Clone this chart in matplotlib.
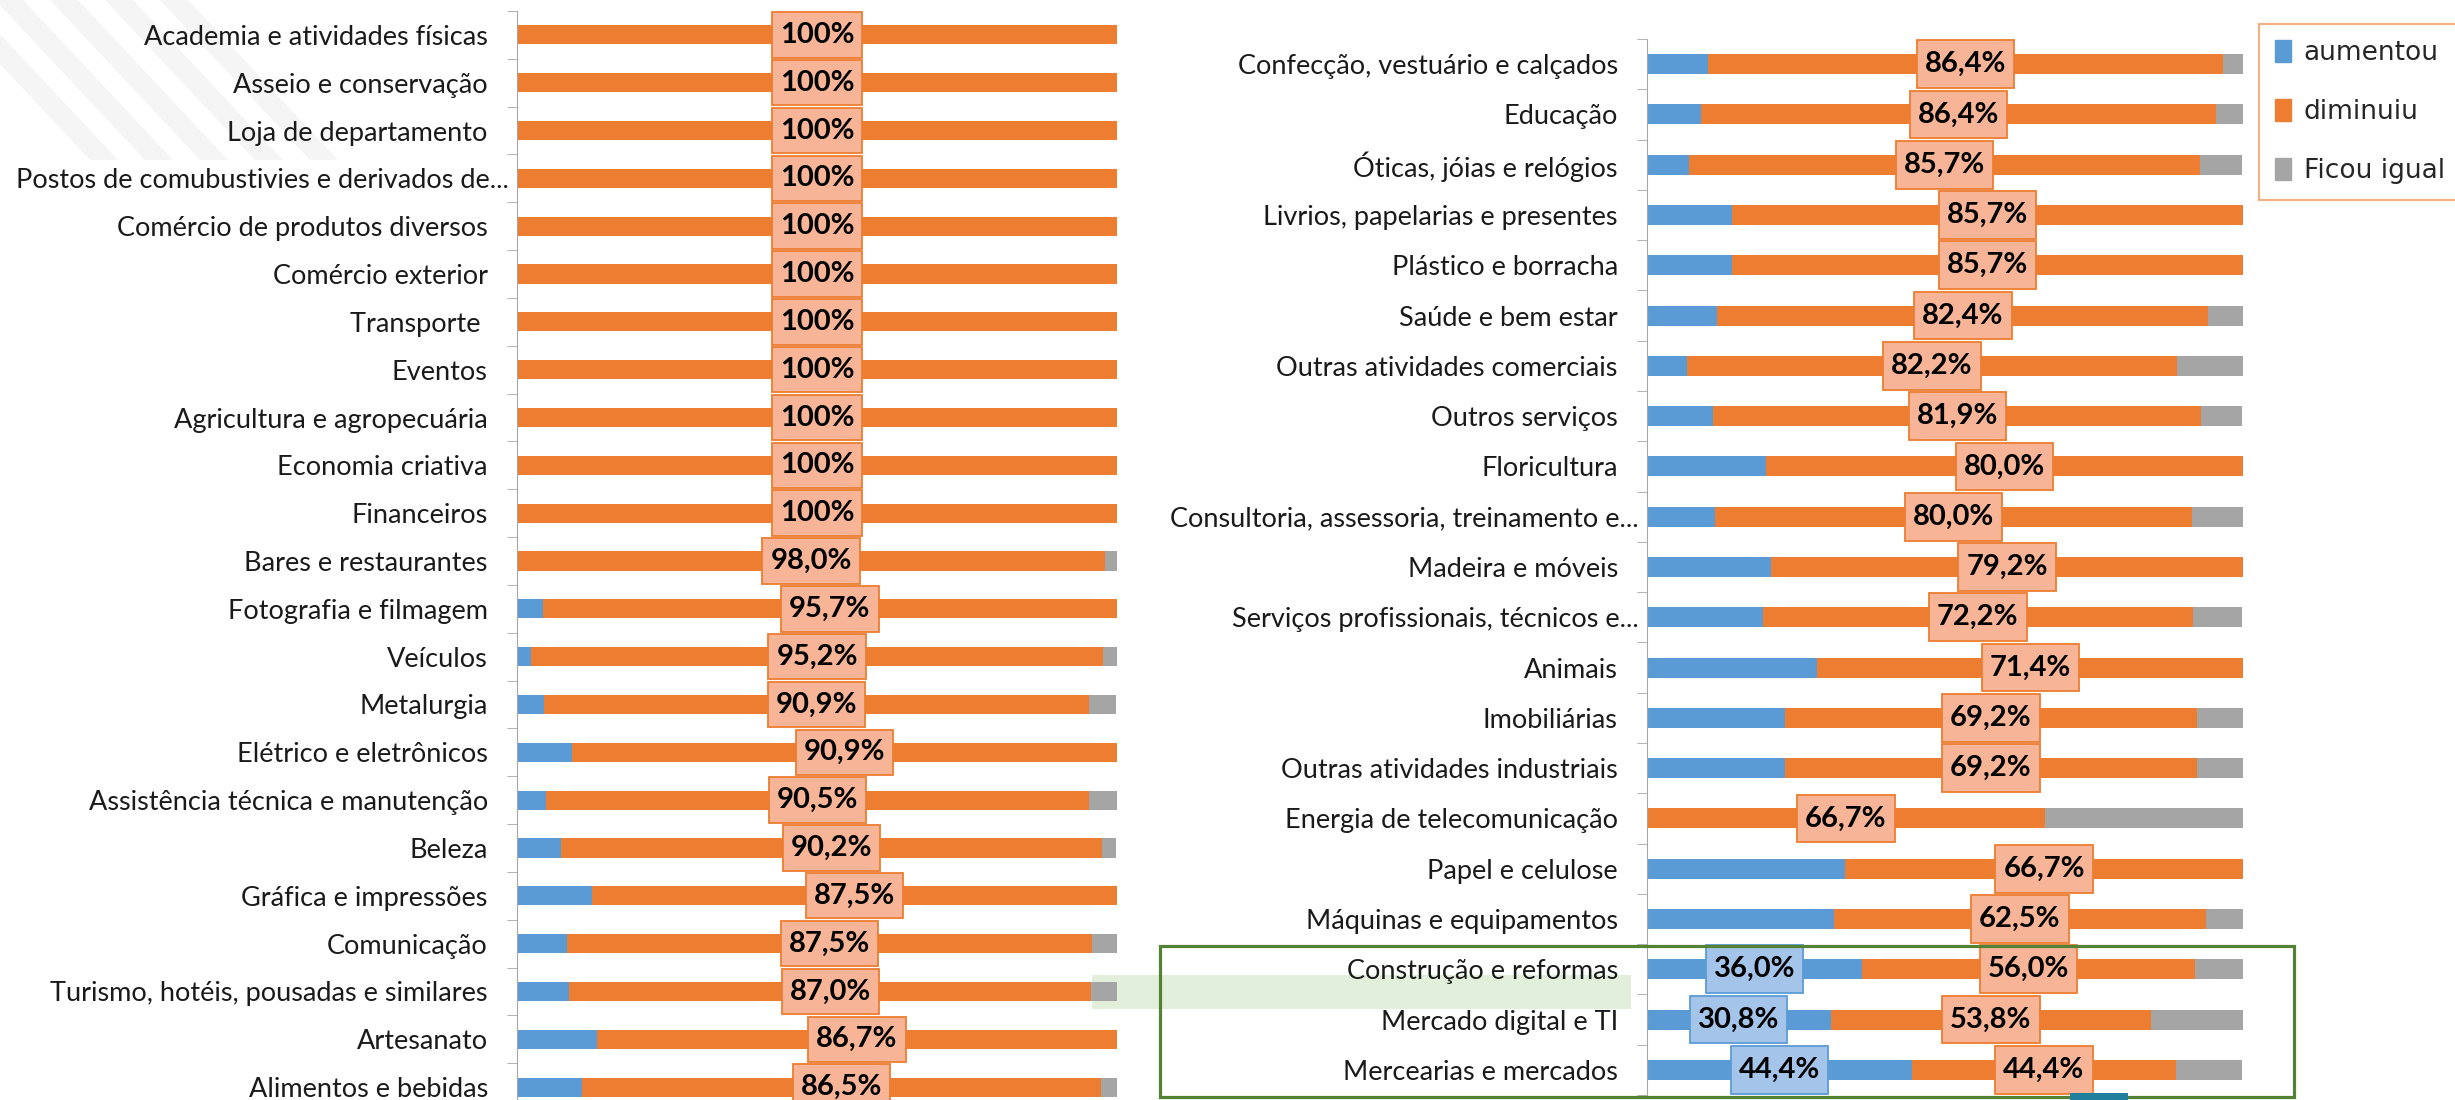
import numpy as np
import matplotlib
matplotlib.use('Agg')
import matplotlib.pyplot as plt
from matplotlib.patches import Rectangle, Patch

plt.rcParams['font.family'] = ['Lato', 'DejaVu Sans']

BLUE = '#5B9BD5'
ORANGE = '#ED7D31'
GRAY = '#A5A5A5'

left_cats = ['Academia e atividades físicas', 'Asseio e conservação', 'Loja de departamento',
             'Postos de comubustivies e derivados de...', 'Comércio de produtos diversos',
             'Comércio exterior', 'Transporte ', 'Eventos', 'Agricultura e agropecuária',
             'Economia criativa', 'Financeiros', 'Bares e restaurantes', 'Fotografia e filmagem',
             'Veículos', 'Metalurgia', 'Elétrico e eletrônicos', 'Assistência técnica e manutenção',
             'Beleza', 'Gráfica e impressões', 'Comunicação', 'Turismo, hotéis, pousadas e similares',
             'Artesanato', 'Alimentos e bebidas']
left_aum = [0, 0, 0, 0, 0, 0, 0, 0, 0, 0, 0, 0, 4.3, 2.4, 4.5, 9.1, 4.8, 7.3, 12.5, 8.3, 8.7, 13.3, 10.8]
left_dim = [100, 100, 100, 100, 100, 100, 100, 100, 100, 100, 100, 98.0, 95.7, 95.2, 90.9, 90.9,
            90.5, 90.2, 87.5, 87.5, 87.0, 86.7, 86.5]
left_igual = [0, 0, 0, 0, 0, 0, 0, 0, 0, 0, 0, 2.0, 0, 2.4, 4.5, 0, 4.8, 2.4, 0, 4.2, 4.3, 0, 2.7]

right_cats = ['Confecção, vestuário e calçados', 'Educação', 'Óticas, jóias e relógios',
              'Livrios, papelarias e presentes', 'Plástico e borracha', 'Saúde e bem estar',
              'Outras atividades comerciais', 'Outros serviços', 'Floricultura',
              'Consultoria, assessoria, treinamento e...', 'Madeira e móveis',
              'Serviços profissionais, técnicos e...', 'Animais', 'Imobiliárias',
              'Outras atividades industriais', 'Energia de telecomunicação', 'Papel e celulose',
              'Máquinas e equipamentos', 'Construção e reformas', 'Mercado digital e TI',
              'Mercearias e mercados']
right_aum = [10.2, 9.1, 7.1, 14.3, 14.3, 11.8, 6.7, 11.1, 20.0, 11.4, 20.8, 19.4, 28.6, 23.1, 23.1,
             0, 33.3, 31.3, 36.0, 30.8, 44.4]
right_dim = [86.4, 86.4, 85.7, 85.7, 85.7, 82.4, 82.2, 81.9, 80.0, 80.0, 79.2, 72.2, 71.4, 69.2, 69.2,
             66.7, 66.7, 62.5, 56.0, 53.8, 44.4]
right_igual = [3.4, 4.5, 7.1, 0, 0, 5.9, 11.1, 6.9, 0, 8.6, 0, 8.3, 0, 7.7, 7.7, 33.3, 0, 6.3,
               8.0, 15.4, 11.1]
# rows of the right chart that also show the "aumentou" value
right_blue_lab = ['Construção e reformas', 'Mercado digital e TI', 'Mercearias e mercados']

legend_labels = ['aumentou', 'diminuiu', 'Ficou igual']

value_boxes = []  # text objects that get a box drawn behind them later


def fmt(v):
    if v == 100:
        return '100%'
    return f'{v:.1f}%'.replace('.', ',')


def draw(ax, cats, aum, dim, igual, blue_lab, short_pad):
    aum = np.array(aum)
    dim = np.array(dim)
    igual = np.array(igual)
    y = np.arange(len(cats))
    ax.barh(y, aum, height=0.4, color=BLUE)
    ax.barh(y, dim, left=aum, height=0.4, color=ORANGE)
    ax.barh(y, igual, left=aum + dim, height=0.4, color=GRAY)
    ax.set_xlim(0, 100)
    ax.set_ylim(len(cats) - 0.5, -0.5)
    ax.set_facecolor('none')

    for s in ['top', 'right', 'bottom']:
        ax.spines[s].set_visible(False)
    ax.spines['left'].set_color('#A6A6A6')
    ax.set_xticks([])
    ax.set_yticks(y)
    ax.set_yticklabels(cats, fontsize=19.5, color='#1a1a1a')
    ax.set_yticks(np.arange(len(cats) + 1) - 0.5, minor=True)
    ax.tick_params(axis='y', which='major', length=0, pad=21)
    ax.tick_params(axis='y', which='minor', length=7, color='#A6A6A6')
    for i, t in enumerate(ax.yaxis.get_major_ticks()):
        if cats[i] in short_pad:
            t.set_pad(6)

    for i in range(len(cats)):
        xc = aum[i] + dim[i] / 2
        t = ax.text(xc, i, fmt(dim[i]), ha='center', va='center',
                    fontsize=21, fontweight='bold', color='black', zorder=4)
        value_boxes.append((ax, t, xc, i, '#F7B497', ORANGE))
        if cats[i] in blue_lab:
            xb = aum[i] / 2
            t = ax.text(xb, i, fmt(aum[i]), ha='center', va='center',
                        fontsize=21, fontweight='bold', color='black', zorder=4)
            value_boxes.append((ax, t, xb, i, '#A4C4EA', BLUE))


W, H = 2455, 1100
fig = plt.figure(figsize=(W / 100, H / 100), dpi=100)

# background highlights
fig.add_artist(Rectangle((1092 / W, 1 - 1009 / H), 539 / W, 34 / H, transform=fig.transFigure,
                         fc='#E2EFDA', ec='none', zorder=-1))
for k in range(5):
    x0 = -60 + k * 55
    fig.add_artist(plt.Polygon([[x0 / W, 1], [(x0 + 28) / W, 1], [(x0 + 28 + 150) / W, 1 - 160 / H],
                                [(x0 + 150) / W, 1 - 160 / H]], closed=True, transform=fig.transFigure,
                               fc='#F5F5F5', ec='none', zorder=-2))

ax1 = fig.add_axes([517 / W, 1 - 1111 / H, 600 / W, 1100 / H])
draw(ax1, left_cats, left_aum, left_dim, left_igual, [],
     ['Postos de comubustivies e derivados de...'])

ax2 = fig.add_axes([1647 / W, 1 - 1095 / H, 596 / W, 1056 / H])
draw(ax2, right_cats, right_aum, right_dim, right_igual, right_blue_lab,
     ['Consultoria, assessoria, treinamento e...', 'Serviços profissionais, técnicos e...'])

handles = [Patch(color=c) for c in [BLUE, ORANGE, GRAY]]
leg = fig.legend(handles, legend_labels, loc='upper left', bbox_to_anchor=(2259 / W, 1 - 24 / H),
                 borderaxespad=0, frameon=True, fancybox=False, handlelength=0.6, handleheight=0.9,
                 handletextpad=0.5, labelspacing=1.25, borderpad=0.6,
                 prop={'family': 'DejaVu Sans', 'size': 19})
leg.get_frame().set_edgecolor('#F19A62')
leg.get_frame().set_linewidth(1.5)
for t in leg.get_texts():
    t.set_color('#262626')

fig.add_artist(Rectangle((1160 / W, 1 - 1097 / H), 1134 / W, 151 / H, transform=fig.transFigure,
                         fc='none', ec='#548235', lw=2.3, zorder=5))
fig.add_artist(Rectangle((2070 / W, 0), 58 / W, 7 / H, transform=fig.transFigure,
                         fc='#1F7F9C', ec='none', zorder=5))

# label boxes: width from the rendered text, height nearly a full row
fig.canvas.draw()
r = fig.canvas.get_renderer()
for ax, t, xc, yc, fc, ec in value_boxes:
    bb = t.get_window_extent(r)
    half = bb.width / 2 + 8
    cx, cy = ax.transData.transform((xc, yc))
    inv = ax.transData.inverted()
    x0 = inv.transform((cx - half, cy))[0]
    x1 = inv.transform((cx + half, cy))[0]
    ax.add_patch(Rectangle((x0, yc - 0.475), x1 - x0, 0.95, fc=fc, ec=ec, lw=1.3,
                           zorder=3, clip_on=False))

fig.savefig('out.png', dpi=100)
